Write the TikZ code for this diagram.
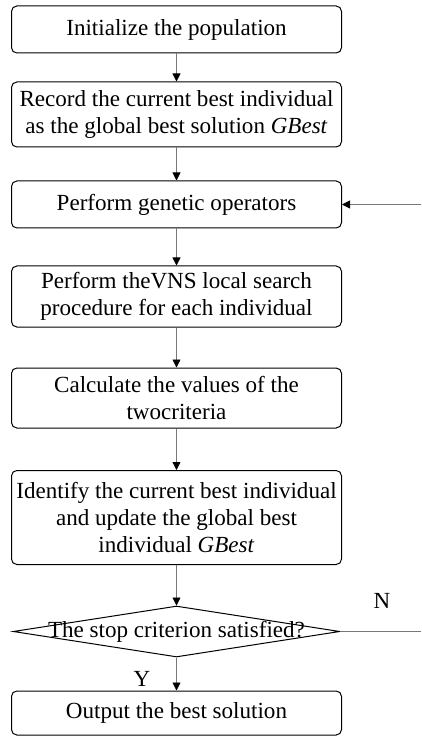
\documentclass[tikz,border=0pt]{standalone}
\usepackage{fontspec}
\setmainfont{Liberation Serif}
\usepackage{tikz}
\usetikzlibrary{shapes.geometric, arrows.meta}
\definecolor{linegray}{RGB}{120,120,120}
\tikzstyle{process} = [rectangle, rounded corners=4pt, draw=black, line width=0.75pt, minimum width=247.5pt, inner sep=0pt, align=center, font=\fontsize{17.3}{20.6}\selectfont]
\tikzstyle{decision} = [diamond, draw=black, line width=0.75pt, minimum width=245pt, minimum height=38.25pt, inner sep=0pt]
\tikzstyle{arrow} = [draw=linegray, line width=0.6pt, -{Triangle[black,length=6pt,width=6pt]}]
\tikzstyle{label} = [inner sep=0pt, font=\fontsize{17.3}{20.6}\selectfont]

\begin{document}
\begin{tikzpicture}[x=0.75pt,y=0.75pt,yscale=-1,xscale=1]
\useasboundingbox (0,0) rectangle (421,737);

%Shape: Rounded Rectangle
\node [process, minimum height=35.25pt] (init) at (176.5,29.5) {Initialize the population};
%Shape: Rounded Rectangle
\node [process, minimum height=48.75pt] (record) at (176.5,114.5) {Record the current best individual\\as the global best solution \textit{GBest}};
%Shape: Rounded Rectangle
\node [process, minimum height=35.25pt] (gen) at (176.5,204.5) {Perform genetic operators};
%Shape: Rounded Rectangle
\node [process, minimum height=45.75pt] (vns) at (176.5,296.5) {Perform theVNS local search\\procedure for each individual};
%Shape: Rounded Rectangle
\node [process, minimum height=45pt] (calc) at (176.5,398) {Calculate the values of the\\twocriteria};
%Shape: Rounded Rectangle
\node [process, minimum height=70.5pt] (update) at (176.5,517.5) {Identify the current best individual\\and update the global best\\individual \textit{GBest}};
%Shape: Diamond
\node [decision] (stop) at (176.5,631.5) {};
\node [label] (stoptxt) at (176.5,631.5) {The stop criterion satisfied?};
%Shape: Rounded Rectangle
\node [process, minimum height=33pt] (out) at (176.5,713) {Output the best solution};

% Text Node
\node [label] (lblN) at (382,601) {N};
% Text Node
\node [label] (lblY) at (142,679) {Y};

\coordinate (nright) at (421,631.5);
\coordinate (gright) at (421,204.5);

%Straight Lines
\draw [arrow] (init) -- (record);
\draw [arrow] (record) -- (gen);
\draw [arrow] (gen) -- (vns);
\draw [arrow] (vns) -- (calc);
\draw [arrow] (calc) -- (update);
\draw [arrow] (update) -- (stop.north);
\draw [arrow] (stop.south) -- (out);
\draw [draw=linegray, line width=0.6pt] (stop.east) -- (nright);
\draw [arrow] (gright) -- (gen.east);

\end{tikzpicture}
\end{document}
